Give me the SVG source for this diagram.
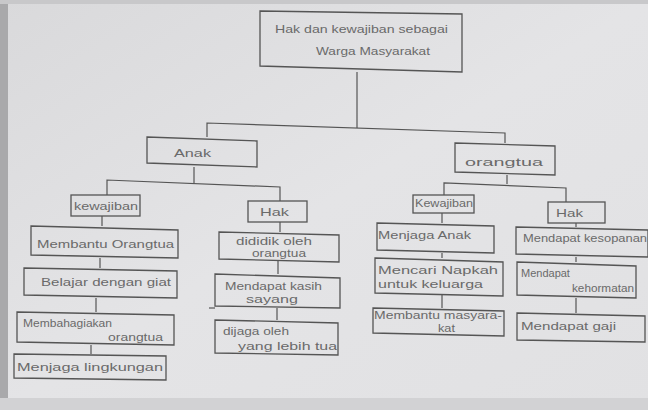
<svg xmlns="http://www.w3.org/2000/svg" width="648" height="410" viewBox="0 0 648 410">
<defs>
<linearGradient id="bg" x1="0" y1="0" x2="1" y2="1">
<stop offset="0" stop-color="#d9d9db"/>
<stop offset="0.5" stop-color="#e4e4e6"/>
<stop offset="1" stop-color="#e1e1e3"/>
</linearGradient>
</defs>
<style>
.box{fill:none;stroke:#555;stroke-width:1.3}
.ln{fill:none;stroke:#555;stroke-width:1.2}
.t{font-family:"Liberation Sans",Arial,sans-serif;font-size:11px;fill:#6a6a6a}
.s{font-size:10px}
</style>
<rect x="0" y="0" width="648" height="410" fill="url(#bg)"/>
<rect x="0" y="0" width="8" height="410" fill="#a9a9ab"/>
<rect x="0" y="0" width="648" height="4" fill="#c8c8ca"/>
<rect x="0" y="398" width="648" height="12" fill="#d2d2d4"/>

<g id="connectors">
<polyline class="ln" points="357,72 357,128"/>
<polyline class="ln" points="207,137 207,123 505,133 505,143"/>
<polyline class="ln" points="194,167 194,183"/>
<polyline class="ln" points="107,195 107,180 280,187 280,201"/>
<polyline class="ln" points="507,175 507,184"/>
<polyline class="ln" points="444,195 444,183 566,188 566,202"/>
<polyline class="ln" points="102,216 102,226"/>
<polyline class="ln" points="100,258 100,268"/>
<polyline class="ln" points="96,298 96,312"/>
<polyline class="ln" points="91,345 91,354"/>
<polyline class="ln" points="280,222 280,232"/>
<polyline class="ln" points="278,260 278,274"/>
<polyline class="ln" points="277,308 277,320"/>
<polyline class="ln" points="209,308 215,308"/>
<polyline class="ln" points="442,213 442,223"/>
<polyline class="ln" points="442,253 442,258"/>
<polyline class="ln" points="442,295 442,308"/>
<polyline class="ln" points="576,223 576,227"/>
<polyline class="ln" points="576,257 576,262"/>
<polyline class="ln" points="576,298 576,313"/>
</g>

<g id="root">
<polygon class="box" points="260,11 462,14 462,72 260,66"/>
<text class="t" x="275" y="33" textLength="173" lengthAdjust="spacingAndGlyphs">Hak dan kewajiban sebagai</text>
<text class="t" x="316" y="55" textLength="114" lengthAdjust="spacingAndGlyphs">Warga Masyarakat</text>
</g>

<g id="anak">
<polygon class="box" points="147,137 257,141 257,167 147,163"/>
<text class="t" x="174" y="157" textLength="37" lengthAdjust="spacingAndGlyphs">Anak</text>
</g>

<g id="orangtua">
<polygon class="box" points="455,143 555,146 555,175 455,172"/>
<text class="t" x="465" y="166" textLength="78" lengthAdjust="spacingAndGlyphs">orangtua</text>
</g>

<g id="anak-kewajiban">
<rect class="box" x="71" y="195" width="69" height="21"/>
<text class="t" x="74" y="210" textLength="64" lengthAdjust="spacingAndGlyphs">kewajiban</text>
</g>

<g id="anak-hak">
<rect class="box" x="248" y="201" width="59" height="21"/>
<text class="t" x="260" y="216" textLength="29" lengthAdjust="spacingAndGlyphs">Hak</text>
</g>

<g id="ortu-kewajiban">
<rect class="box" x="413" y="195" width="61" height="18"/>
<text class="t" x="415" y="207" textLength="58" lengthAdjust="spacingAndGlyphs">Kewajiban</text>
</g>

<g id="ortu-hak">
<rect class="box" x="548" y="202" width="57" height="21"/>
<text class="t" x="556" y="217" textLength="27" lengthAdjust="spacingAndGlyphs">Hak</text>
</g>

<g id="membantu-orangtua">
<polygon class="box" points="31,226 178,230 178,258 31,255"/>
<text class="t" x="37" y="248" textLength="137" lengthAdjust="spacingAndGlyphs">Membantu Orangtua</text>
</g>

<g id="belajar">
<polygon class="box" points="24,268 177,271 177,298 24,295"/>
<text class="t" x="41" y="286" textLength="130" lengthAdjust="spacingAndGlyphs">Belajar dengan giat</text>
</g>

<g id="membahagiakan">
<polygon class="box" points="17,312 174,315 174,345 17,342"/>
<text class="t" x="23" y="327" textLength="89" lengthAdjust="spacingAndGlyphs">Membahagiakan</text>
<text class="t" x="108" y="341" textLength="55" lengthAdjust="spacingAndGlyphs">orangtua</text>
</g>

<g id="menjaga-lingkungan">
<polygon class="box" points="14,354 166,356 166,380 14,378"/>
<text class="t" x="17" y="371" textLength="146" lengthAdjust="spacingAndGlyphs">Menjaga lingkungan</text>
</g>

<g id="dididik">
<polygon class="box" points="219,232 339,235 339,262 219,259"/>
<text class="t" x="236" y="245" textLength="76" lengthAdjust="spacingAndGlyphs">dididik oleh</text>
<text class="t s" x="252" y="257" textLength="54" lengthAdjust="spacingAndGlyphs">orangtua</text>
</g>

<g id="kasih-sayang">
<polygon class="box" points="215,274 340,278 340,308 215,306"/>
<text class="t" x="225" y="290" textLength="97" lengthAdjust="spacingAndGlyphs">Mendapat kasih</text>
<text class="t" x="246" y="303" textLength="52" lengthAdjust="spacingAndGlyphs">sayang</text>
</g>

<g id="dijaga">
<polygon class="box" points="215,320 338,323 338,355 215,353"/>
<text class="t" x="223" y="335" textLength="66" lengthAdjust="spacingAndGlyphs">dijaga oleh</text>
<text class="t" x="238" y="350" textLength="99" lengthAdjust="spacingAndGlyphs">yang lebih tua</text>
</g>

<g id="menjaga-anak">
<polygon class="box" points="377,223 494,226 494,253 377,250"/>
<text class="t" x="378" y="239" textLength="93" lengthAdjust="spacingAndGlyphs">Menjaga Anak</text>
</g>

<g id="mencari-nafkah">
<polygon class="box" points="375,258 503,262 503,296 375,293"/>
<text class="t" x="378" y="274" textLength="120" lengthAdjust="spacingAndGlyphs">Mencari Napkah</text>
<text class="t" x="378" y="288" textLength="105" lengthAdjust="spacingAndGlyphs">untuk keluarga</text>
</g>

<g id="membantu-masyarakat">
<polygon class="box" points="373,308 504,311 504,336 373,333"/>
<text class="t" x="374" y="319" textLength="128" lengthAdjust="spacingAndGlyphs">Membantu masyara-</text>
<text class="t" x="438" y="332" textLength="17" lengthAdjust="spacingAndGlyphs">kat</text>
</g>

<g id="kesopanan">
<polygon class="box" points="516,227 648,230 648,257 516,254"/>
<text class="t" x="523" y="242" textLength="124" lengthAdjust="spacingAndGlyphs">Mendapat kesopanan</text>
</g>

<g id="kehormatan">
<polygon class="box" points="517,262 636,266 636,298 517,295"/>
<text class="t" x="521" y="277">Mendapat</text>
<text class="t" x="572" y="292" textLength="62" lengthAdjust="spacingAndGlyphs">kehormatan</text>
</g>

<g id="gaji">
<polygon class="box" points="517,313 645,316 645,342 517,340"/>
<text class="t" x="521" y="330" textLength="95" lengthAdjust="spacingAndGlyphs">Mendapat gaji</text>
</g>
</svg>
